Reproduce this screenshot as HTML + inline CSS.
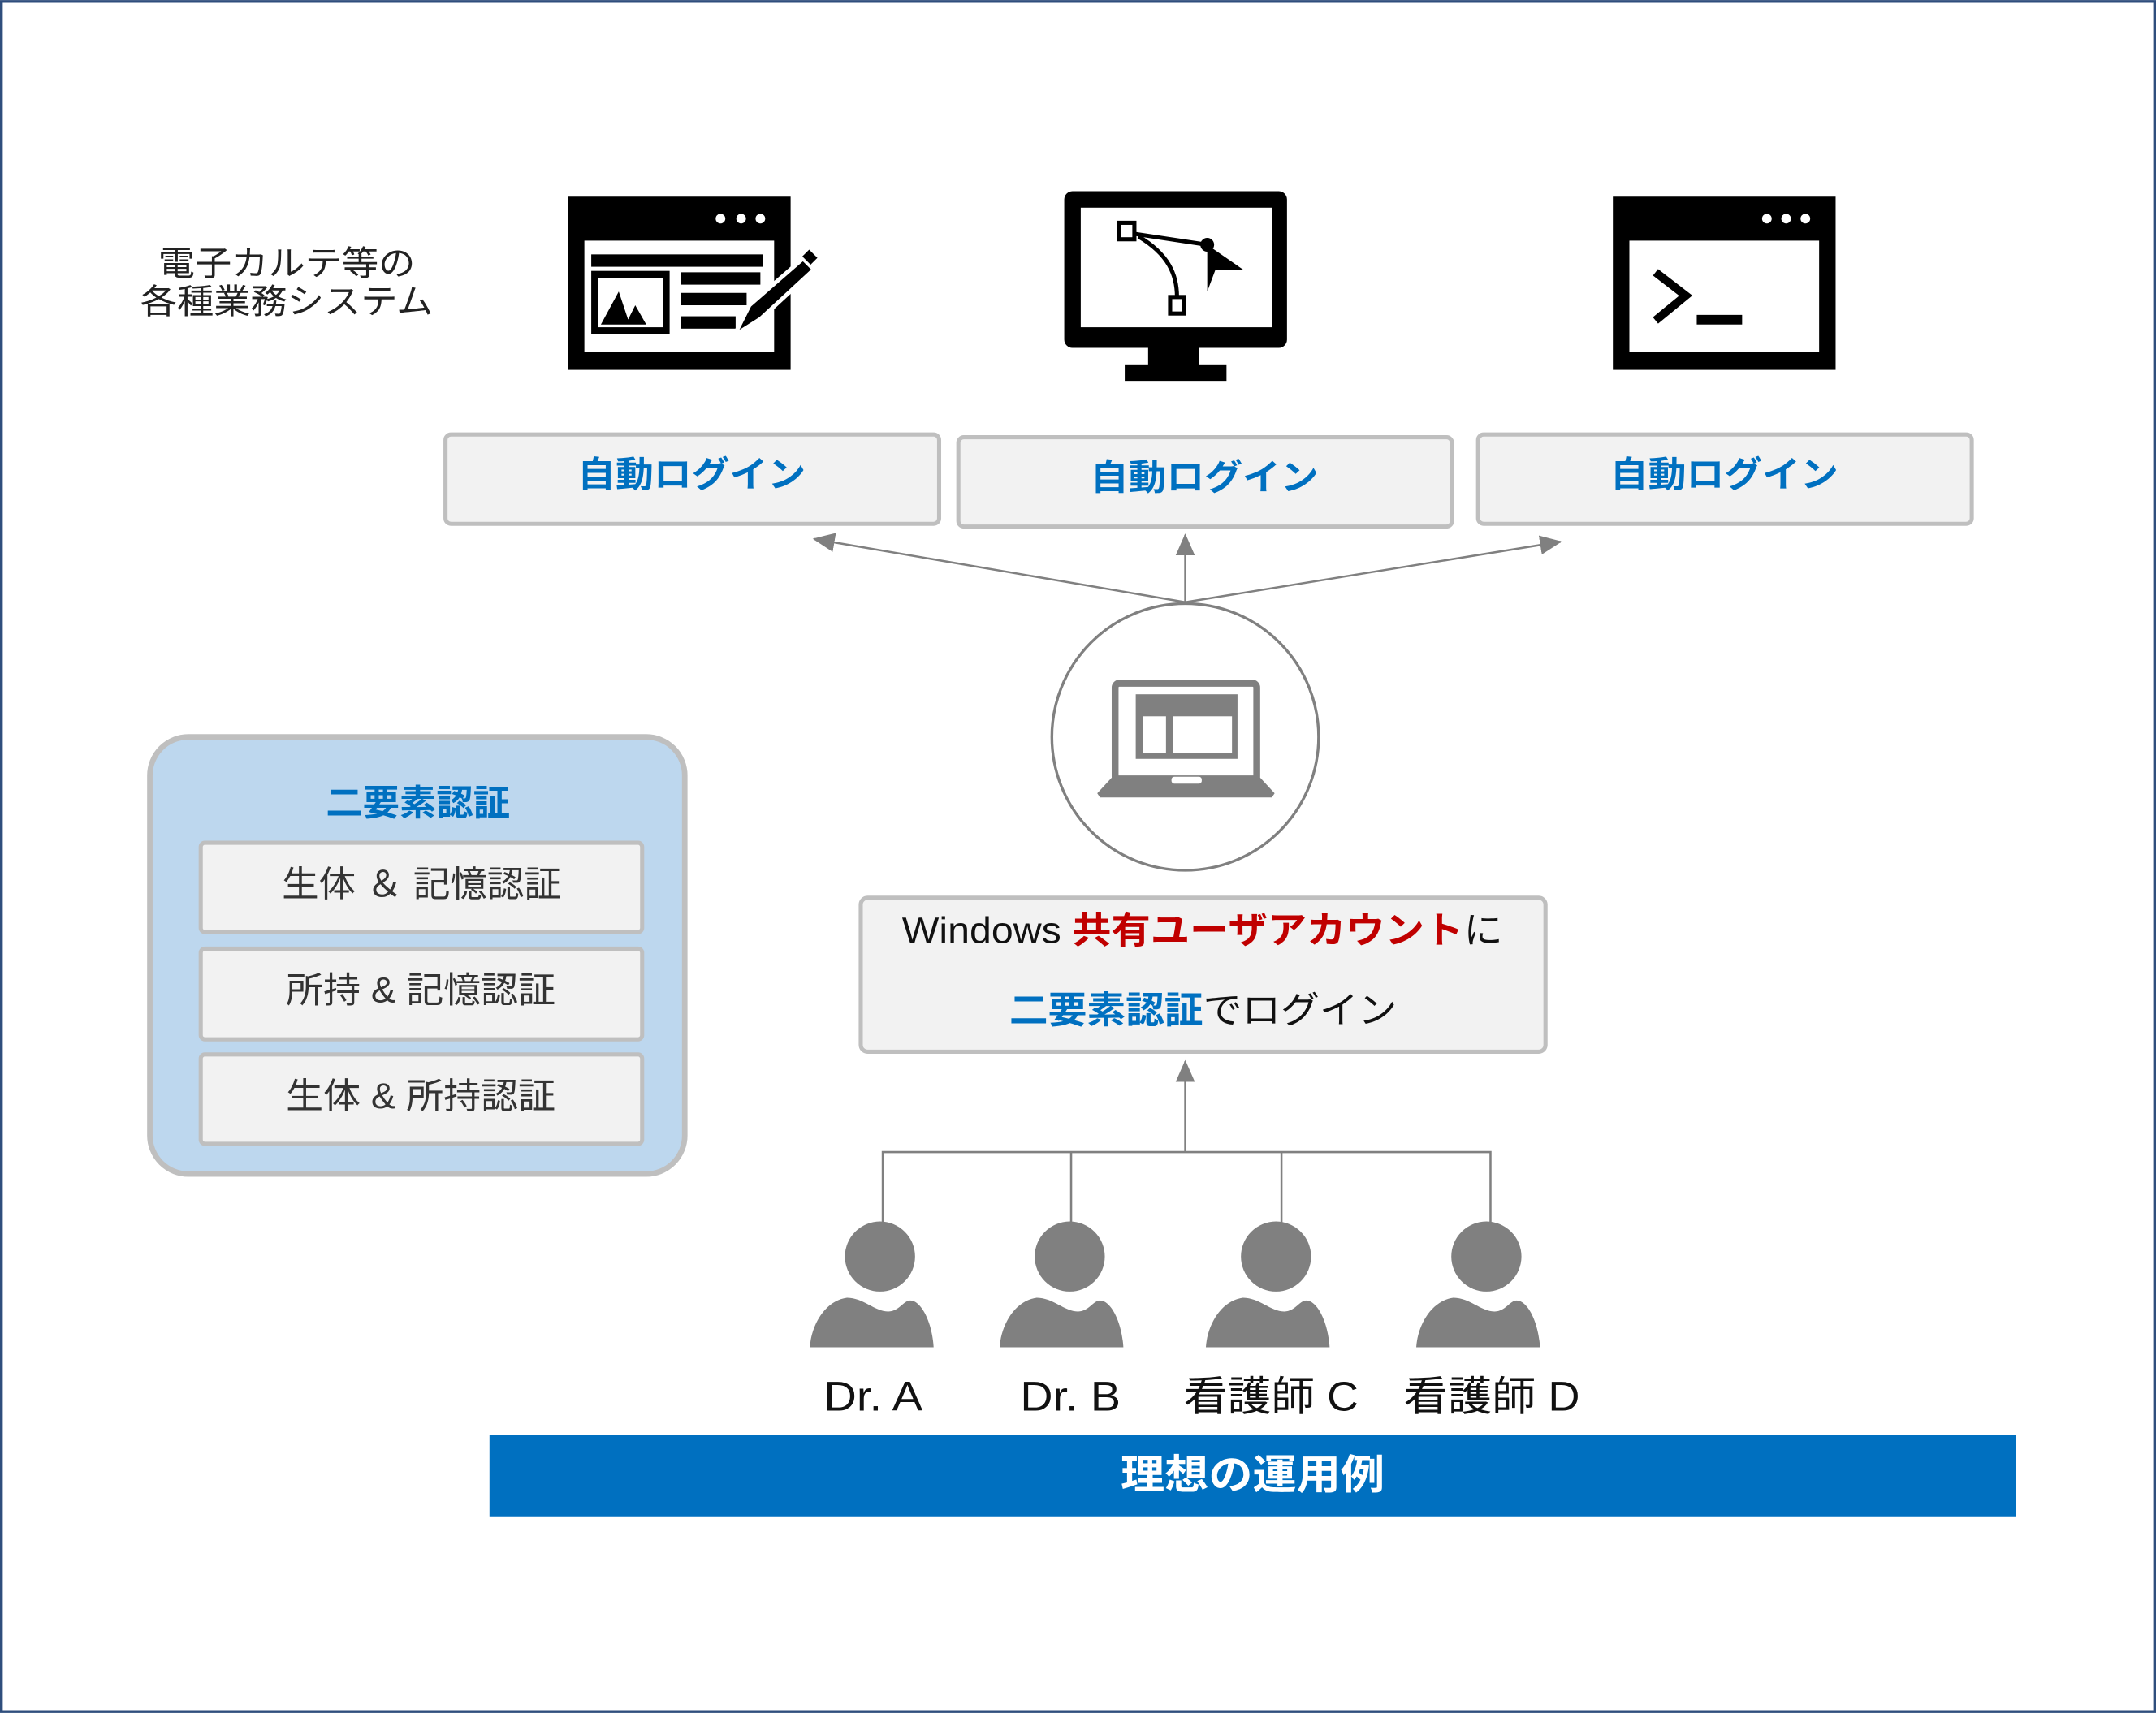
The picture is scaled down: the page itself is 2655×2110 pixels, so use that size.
<!DOCTYPE html>
<html><head><meta charset="utf-8">
<style>
html,body{margin:0;padding:0;background:#fff;}
svg{display:block;}
text{font-family:"Liberation Sans","Noto Sans CJK JP",sans-serif;}
</style></head>
<body>
<svg width="2655" height="2110" viewBox="0 0 1568 1246" xmlns="http://www.w3.org/2000/svg">
<defs>
<marker id="arb" markerWidth="16" markerHeight="14" refX="15" refY="7" orient="auto" markerUnits="userSpaceOnUse" viewBox="0 0 16 14">
<path d="M0,0 L16,7 L0,14 Z" fill="#808080"/></marker>
<g id="person">
<circle cx="0" cy="0" r="25.5" fill="#808080"/>
<path d="M-51,66 C-50,50 -40,32 -24,30 C-12,30 -4,40 6,40 C14,40 17,32 22,32 C30,32 38,48 39,66 Z" fill="#808080"/>
</g>
</defs>
<rect x="1" y="1" width="1566" height="1244" fill="#fff" stroke="#2F4E7D" stroke-width="2"/>

<text x="115" y="200" font-size="25" fill="#222" textLength="187" lengthAdjust="spacingAndGlyphs">電子カルテ等の</text>
<text x="102" y="228" font-size="25" fill="#222" textLength="213" lengthAdjust="spacingAndGlyphs">各種業務システム</text>

<!-- icon 1 -->
<rect x="413" y="143" width="162" height="126" fill="#000"/>
<rect x="425" y="175" width="138" height="81" fill="#fff"/>
<circle cx="524" cy="159" r="3.5" fill="#fff"/><circle cx="539" cy="159" r="3.5" fill="#fff"/><circle cx="553" cy="159" r="3.5" fill="#fff"/>
<rect x="430" y="185" width="125" height="9" fill="#000"/>
<rect x="430" y="197" width="57" height="46" fill="#000"/>
<rect x="435" y="202" width="47" height="36" fill="#fff"/>
<path d="M437,236 L450,212 L458,236 Z M455,236 L462,222 L470,236 Z" fill="#000"/>
<rect x="495" y="198" width="58" height="9" fill="#000"/>
<rect x="495" y="213" width="48" height="9" fill="#000"/>
<rect x="495" y="230" width="40" height="9" fill="#000"/>
<path d="M545,222 L584,188 L592,196 L553,232 L534,244 Z" fill="#000" stroke="#fff" stroke-width="3"/>
<path d="M586,184 L592,190" stroke="#000" stroke-width="7"/>

<!-- icon 2 monitor -->
<rect x="774" y="139" width="162" height="114" rx="6" fill="#000"/>
<rect x="786" y="151" width="139" height="87" fill="#fff"/>
<rect x="835" y="252" width="37" height="14" fill="#000"/>
<rect x="818" y="265" width="74" height="12" fill="#000"/>
<rect x="814" y="162" width="11" height="12" fill="#fff" stroke="#000" stroke-width="3"/>
<rect x="851" y="216" width="10" height="12" fill="#fff" stroke="#000" stroke-width="3"/>
<path d="M825,170 L878,178" stroke="#000" stroke-width="3" fill="none"/>
<path d="M828,172 C850,185 856,200 856,216" stroke="#000" stroke-width="3" fill="none"/>
<circle cx="878" cy="178" r="5" fill="#000"/>
<path d="M878,178 L904,196 L884,196 L878,212 Z" fill="#000"/>

<!-- icon 3 terminal -->
<rect x="1173" y="143" width="162" height="126" fill="#000"/>
<rect x="1185" y="175" width="138" height="81" fill="#fff"/>
<circle cx="1285" cy="159" r="3.5" fill="#fff"/><circle cx="1299" cy="159" r="3.5" fill="#fff"/><circle cx="1313" cy="159" r="3.5" fill="#fff"/>
<path d="M1204,198 L1226,215 L1204,233" stroke="#000" stroke-width="6" fill="none"/>
<rect x="1234" y="229" width="33" height="7" fill="#000"/>

<!-- auto login boxes -->
<g font-size="26" font-weight="bold" fill="#0070C0">
<rect x="324" y="316" width="359" height="65" rx="4" fill="#F2F2F2" stroke="#BFBFBF" stroke-width="3"/>
<text x="420" y="354" textLength="166" lengthAdjust="spacingAndGlyphs">自動ログイン</text>
<rect x="697" y="318" width="359" height="65" rx="4" fill="#F2F2F2" stroke="#BFBFBF" stroke-width="3"/>
<text x="793" y="356" textLength="166" lengthAdjust="spacingAndGlyphs">自動ログイン</text>
<rect x="1075" y="316" width="359" height="65" rx="4" fill="#F2F2F2" stroke="#BFBFBF" stroke-width="3"/>
<text x="1171" y="354" textLength="166" lengthAdjust="spacingAndGlyphs">自動ログイン</text>
</g>

<!-- arrows up -->
<g stroke="#808080" stroke-width="1.5" fill="none">
<line x1="862" y1="438" x2="592" y2="392" marker-end="url(#arb)"/>
<line x1="862" y1="438" x2="862" y2="389" marker-end="url(#arb)"/>
<line x1="862" y1="438" x2="1135" y2="394" marker-end="url(#arb)"/>
</g>

<!-- circle laptop -->
<circle cx="862" cy="536" r="97" fill="#fff" stroke="#808080" stroke-width="2"/>
<rect x="811" y="497" width="103" height="71" rx="3" fill="#fff" stroke="#808080" stroke-width="5"/>
<rect x="826" y="505" width="74" height="47" fill="#808080"/>
<rect x="831" y="521" width="17" height="27" fill="#fff"/>
<rect x="853" y="521" width="43" height="27" fill="#fff"/>
<path d="M810,564 L915,564 L927,577 L925,580 L800,580 L798,577 Z" fill="#808080"/>
<rect x="852" y="565" width="22" height="5" rx="2" fill="#fff"/>

<!-- login box -->
<rect x="626" y="653" width="498" height="112" rx="5" fill="#F2F2F2" stroke="#BFBFBF" stroke-width="3"/>
<text x="656" y="686" font-size="27" fill="#111" textLength="437" lengthAdjust="spacingAndGlyphs">Windows <tspan fill="#C00000" font-weight="bold">共有ユーザアカウント</tspan>に</text>
<text x="734" y="744" font-size="27" fill="#111" textLength="282" lengthAdjust="spacingAndGlyphs"><tspan fill="#0070C0" font-weight="bold">二要素認証</tspan>でログイン</text>

<!-- arrow from people -->
<g stroke="#808080" stroke-width="1.5" fill="none">
<line x1="862" y1="838" x2="862" y2="772" marker-end="url(#arb)"/>
<polyline points="642,893 642,838 1084,838 1084,893"/>
<line x1="779" y1="838" x2="779" y2="893"/>
<line x1="932" y1="838" x2="932" y2="893"/>
</g>
<use href="#person" x="640" y="914"/>
<use href="#person" x="778" y="914"/>
<use href="#person" x="928" y="914"/>
<use href="#person" x="1081" y="914"/>

<g font-size="30" fill="#111">
<text x="599" y="1026" textLength="72" lengthAdjust="spacingAndGlyphs">Dr. A</text>
<text x="742" y="1026" textLength="73" lengthAdjust="spacingAndGlyphs">Dr. B</text>
<text x="861" y="1026" textLength="127" lengthAdjust="spacingAndGlyphs">看護師 C</text>
<text x="1021" y="1026" textLength="128" lengthAdjust="spacingAndGlyphs">看護師 D</text>
</g>

<rect x="356" y="1044" width="1110" height="59" fill="#0070C0"/>
<text x="815" y="1083" font-size="30" font-weight="bold" fill="#fff" textLength="192" lengthAdjust="spacingAndGlyphs">理想の運用例</text>

<!-- left panel -->
<rect x="109" y="536" width="389" height="318" rx="28" fill="#BDD7EE" stroke="#BFBFBF" stroke-width="4"/>
<text x="237" y="593" font-size="26" font-weight="bold" fill="#0070C0" textLength="134" lengthAdjust="spacingAndGlyphs">二要素認証</text>
<g font-size="26" fill="#333">
<rect x="146" y="613" width="321" height="65" rx="3" fill="#F2F2F2" stroke="#BFBFBF" stroke-width="3"/>
<text x="205" y="652" textLength="203" lengthAdjust="spacingAndGlyphs">生体 ＆ 記憶認証</text>
<rect x="146" y="690" width="321" height="66" rx="3" fill="#F2F2F2" stroke="#BFBFBF" stroke-width="3"/>
<text x="208" y="729" textLength="196" lengthAdjust="spacingAndGlyphs">所持 &amp; 記憶認証</text>
<rect x="146" y="767" width="321" height="65" rx="3" fill="#F2F2F2" stroke="#BFBFBF" stroke-width="3"/>
<text x="208" y="806" textLength="196" lengthAdjust="spacingAndGlyphs">生体 &amp; 所持認証</text>
</g>
</svg>
</body></html>
